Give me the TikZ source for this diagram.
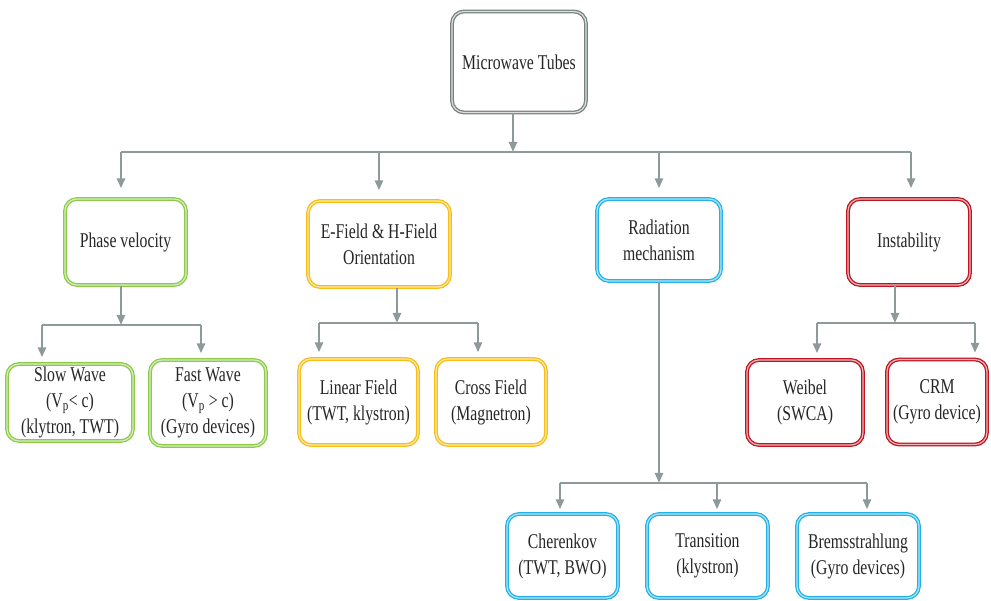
\documentclass[tikz,border=0pt]{standalone}
\usepackage{fontspec}
\setmainfont{Liberation Serif}[FakeStretch=0.75]
\usetikzlibrary{arrows.meta,calc}
\definecolor{linkgray}{HTML}{8E9A99}
\definecolor{rootgray}{HTML}{76827F}
\definecolor{phasegreen}{HTML}{8CCB4A}
\definecolor{fieldyellow}{HTML}{F7BE16}
\definecolor{radblue}{HTML}{22B2E6}
\definecolor{instred}{HTML}{BF1420}
\definecolor{textgray}{HTML}{262626}
\tikzset{
  >={Triangle[length=10pt,width=8pt]},
  bus/.style={line width=2.4pt,draw=linkgray},
  flow/.style={->,line width=2.4pt,draw=linkgray},
  drop/.style={flow,shorten >=#1},
  drop/.default=6pt,
  base/.style={line width=1.3pt,double distance=1.2pt,rounded corners=12pt,
               fill=white,align=center,inner sep=2pt,text=textgray,
               font=\fontsize{21}{26}\selectfont},
  tubes/.style={base,draw=rootgray,double=rootgray!25},
  phase/.style={base,draw=phasegreen,double=phasegreen!35},
  orient/.style={base,draw=fieldyellow,double=fieldyellow!35},
  radiate/.style={base,draw=radblue,double=radblue!35},
  unstable/.style={base,draw=instred,double=instred!30}
}

\begin{document}
\begin{tikzpicture}[x=1pt,y=-1pt]
  \useasboundingbox (0,0) rectangle (991,601);
  % root
  \node[tubes,minimum width=134pt,minimum height=101pt] (root) at (519,62) {Microwave Tubes};
  % first level
  \node[phase,minimum width=121pt,minimum height=86pt] (pv) at (125.5,242) {Phase velocity};
  \node[orient,minimum width=142pt,minimum height=86pt] (ef) at (379,244) {E-Field \& H-Field\\Orientation};
  \node[radiate,minimum width=124pt,minimum height=82pt] (rm) at (659,240) {Radiation\\mechanism};
  \node[unstable,minimum width=122pt,minimum height=86pt] (in) at (909,242) {Instability};
  % second level
  \node[phase,minimum width=126pt,minimum height=77pt] (sw) at (70,402.5) {Slow Wave\\(V\textsubscript{p}< c)\\(klytron, TWT)};
  \node[phase,minimum width=116pt,minimum height=86pt] (fw) at (208,403) {Fast Wave\\(V\textsubscript{p} > c)\\(Gyro devices)};
  \node[orient,minimum width=119pt,minimum height=86pt] (lf) at (358.5,402) {Linear Field\\(TWT, klystron)};
  \node[orient,minimum width=110pt,minimum height=86pt] (cf) at (491,402) {Cross Field\\(Magnetron)};
  \node[unstable,minimum width=116pt,minimum height=85pt] (wb) at (805,402.5) {Weibel\\(SWCA)};
  \node[unstable,minimum width=100pt,minimum height=85pt] (crm) at (937,402) {CRM\\(Gyro device)};
  % third level
  \node[radiate,minimum width=111pt,minimum height=84pt] (ck) at (562.5,556) {Cherenkov\\(TWT, BWO)};
  \node[radiate,minimum width=121pt,minimum height=84pt] (tr) at (707.5,556) {Transition\\(klystron)};
  \node[radiate,minimum width=122pt,minimum height=84pt] (bs) at (858,556) {Bremsstrahlung\\(Gyro devices)};

  % junctions
  \coordinate (top) at (513,152);
  \coordinate (topL) at (121,152);
  \coordinate (topR) at (911,152);
  \coordinate (pvJ) at (121,325);
  \coordinate (pvL) at (42,325);
  \coordinate (pvR) at (201,325);
  \coordinate (efJ) at (397,323);
  \coordinate (efL) at (319,323);
  \coordinate (efR) at (478,323);
  \coordinate (inJ) at (895,323);
  \coordinate (inL) at (817,323);
  \coordinate (inR) at (975,323);
  \coordinate (rmJ) at (659,483);
  \coordinate (rmL) at (560,483);
  \coordinate (rmM) at (717,483);
  \coordinate (rmR) at (867,483);

  \draw[flow] (root.south -| top) -- (top);
  \draw[bus] (topL) -- (topR);
  \draw[drop=10pt] (topL) -- (topL |- pv.north);
  \draw[drop=10pt] (top -| ef) -- (ef.north);
  \draw[drop=10pt] (top -| rm) -- (rm.north);
  \draw[drop=10pt] (topR) -- (topR |- in.north);

  \draw[flow] (pv.south -| pvJ) -- (pvJ);
  \draw[bus] (pvL) -- (pvR);
  \draw[drop] (pvL) -- (pvL |- sw.north);
  \draw[drop] (pvR) -- (pvR |- fw.north);

  \draw[flow] (ef.south -| efJ) -- (efJ);
  \draw[bus] (efL) -- (efR);
  \draw[drop] (efL) -- (efL |- lf.north);
  \draw[drop] (efR) -- (efR |- cf.north);

  \draw[flow] (in.south -| inJ) -- (inJ);
  \draw[bus] (inL) -- (inR);
  \draw[drop] (inL) -- (inL |- wb.north);
  \draw[drop] (inR) -- (inR |- crm.north);

  \draw[flow] (rm.south) -- (rmJ);
  \draw[bus] (rmL) -- (rmR);
  \draw[drop=4pt] (rmL) -- (rmL |- ck.north);
  \draw[drop=4pt] (rmM) -- (rmM |- tr.north);
  \draw[drop=4pt] (rmR) -- (rmR |- bs.north);
\end{tikzpicture}
\end{document}
